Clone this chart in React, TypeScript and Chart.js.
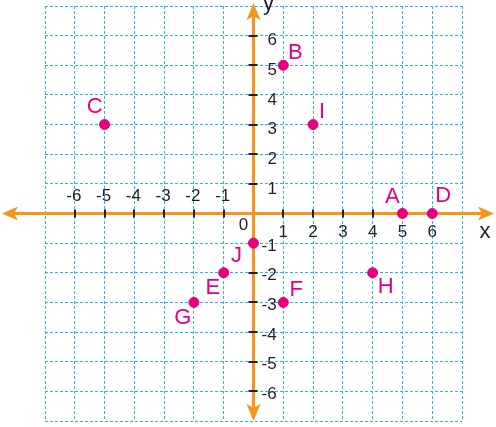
import React, { useEffect, useRef } from "react";
import { Chart, registerables } from "chart.js";

Chart.register(...registerables);

const pointNames = ["A", "B", "C", "D", "E", "F", "G", "H", "I", "J"];
const xValues = [5, 1, -5, 6, -1, 1, -2, 4, 2, 0];
const yValues = [0, 5, 3, 0, -2, -3, -3, -2, 3, -1];
// label offsets (px) from each point, for placing the letter
const labelDx = [-10, 12, -10, 11, -11, 13, -11, 13, 9, -17];
const labelDy = [-17, -12, -18, -18, 15, -12, 16, 14, -13, 13];

const xTickValues = [-6, -5, -4, -3, -2, -1, 1, 2, 3, 4, 5, 6];
const yTickValues = [6, 5, 4, 3, 2, 1, -1, -2, -3, -4, -5, -6];
const axisMin = -7;
const axisMax = 7;

const ORANGE = "#F7941D";
const MAGENTA = "#E6007E";
const DARK = "#231F20";
const GRID = "#36B3E6";
const FONT = "'Liberation Sans', Arial, sans-serif";

const axesPlugin = {
  id: "axesPlugin",
  beforeDatasetsDraw(chart: any) {
    const ctx = chart.ctx;
    const xs = chart.scales.x;
    const ys = chart.scales.y;
    const ox = xs.getPixelForValue(0);
    const oy = ys.getPixelForValue(0);
    const W = chart.width;
    ctx.save();
    ctx.strokeStyle = ORANGE;
    ctx.fillStyle = ORANGE;
    ctx.lineWidth = 3;
    // x axis
    ctx.beginPath();
    ctx.moveTo(12, oy);
    ctx.lineTo(W - 12, oy);
    ctx.stroke();
    ctx.beginPath();
    ctx.moveTo(W - 2, oy);
    ctx.lineTo(W - 18, oy - 7);
    ctx.lineTo(W - 14, oy);
    ctx.lineTo(W - 18, oy + 7);
    ctx.closePath();
    ctx.fill();
    ctx.beginPath();
    ctx.moveTo(2, oy);
    ctx.lineTo(18, oy - 7);
    ctx.lineTo(14, oy);
    ctx.lineTo(18, oy + 7);
    ctx.closePath();
    ctx.fill();
    // y axis
    const top = 3;
    const bottom = 421;
    ctx.beginPath();
    ctx.moveTo(ox, top + 10);
    ctx.lineTo(ox, bottom - 10);
    ctx.stroke();
    ctx.beginPath();
    ctx.moveTo(ox, top);
    ctx.lineTo(ox - 7, top + 17);
    ctx.lineTo(ox, top + 13);
    ctx.lineTo(ox + 7, top + 17);
    ctx.closePath();
    ctx.fill();
    ctx.beginPath();
    ctx.moveTo(ox, bottom);
    ctx.lineTo(ox - 7, bottom - 17);
    ctx.lineTo(ox, bottom - 13);
    ctx.lineTo(ox + 7, bottom - 17);
    ctx.closePath();
    ctx.fill();

    // tick marks
    ctx.strokeStyle = DARK;
    ctx.lineWidth = 2;
    xTickValues.forEach((v) => {
      const px = Math.round(xs.getPixelForValue(v));
      ctx.beginPath();
      ctx.moveTo(px, oy - 4);
      ctx.lineTo(px, oy + 4);
      ctx.stroke();
    });
    yTickValues.forEach((v) => {
      const py = Math.round(ys.getPixelForValue(v));
      ctx.beginPath();
      ctx.moveTo(ox - 5, py);
      ctx.lineTo(ox + 4, py);
      ctx.stroke();
    });

    // tick labels
    ctx.fillStyle = DARK;
    ctx.font = `17px ${FONT}`;
    ctx.textBaseline = "middle";
    ctx.textAlign = "center";
    xTickValues.forEach((v) => {
      const px = xs.getPixelForValue(v);
      if (v < 0) ctx.fillText(String(v), px - 1, oy - 17);
      else ctx.fillText(String(v), px, oy + 19);
    });
    ctx.fillText("0", ox - 10, oy + 12);
    ctx.textAlign = "left";
    yTickValues.forEach((v) => {
      const py = ys.getPixelForValue(v);
      if (v > 0) ctx.fillText(String(v), ox + 14, py + 5);
      else ctx.fillText(String(v), ox + 8, py + 3);
    });
    // axis names
    ctx.font = `22px ${FONT}`;
    ctx.textAlign = "center";
    ctx.textBaseline = "alphabetic";
    ctx.fillText("y", ox + 15, 10);
    ctx.fillText("x", W - 11, oy + 24);
    ctx.restore();
  },
  afterDatasetsDraw(chart: any) {
    const ctx = chart.ctx;
    const meta = chart.getDatasetMeta(0);
    ctx.save();
    ctx.fillStyle = MAGENTA;
    ctx.font = `22px ${FONT}`;
    ctx.textAlign = "center";
    ctx.textBaseline = "middle";
    meta.data.forEach((el: any, i: number) => {
      ctx.fillText(pointNames[i], el.x + labelDx[i], el.y + labelDy[i]);
    });
    ctx.restore();
  },
};

export default function App() {
  const ref = useRef<HTMLCanvasElement>(null);
  useEffect(() => {
    if (!ref.current) return;
    const chart = new Chart(ref.current, {
      type: "scatter",
      data: {
        datasets: [
          {
            data: xValues.map((x, i) => ({ x, y: yValues[i] })),
            backgroundColor: MAGENTA,
            borderColor: MAGENTA,
            borderWidth: 1,
            pointRadius: 5,
            clip: false as any,
          },
        ],
      },
      options: {
        responsive: false,
        animation: false,
        devicePixelRatio: 1,
        layout: { padding: { left: 45, right: 34, top: 5, bottom: 5 } },
        plugins: { legend: { display: false }, tooltip: { enabled: false } },
        scales: {
          x: {
            type: "linear",
            min: axisMin,
            max: axisMax,
            ticks: { display: false, stepSize: 1 },
            grid: { color: GRID, lineWidth: 1, drawTicks: false },
            border: { display: false, dash: [3, 2] },
          },
          y: {
            type: "linear",
            min: axisMin,
            max: axisMax,
            ticks: { display: false, stepSize: 1 },
            grid: { color: GRID, lineWidth: 1, drawTicks: false },
            border: { display: false, dash: [3, 2] },
          },
        },
      },
      plugins: [axesPlugin],
    });
    return () => chart.destroy();
  }, []);
  return (
    <div style={{ position: "absolute", left: 0, top: 0, width: 496, height: 427, background: "#fff" }}>
      <canvas ref={ref} width={496} height={427} />
    </div>
  );
}
